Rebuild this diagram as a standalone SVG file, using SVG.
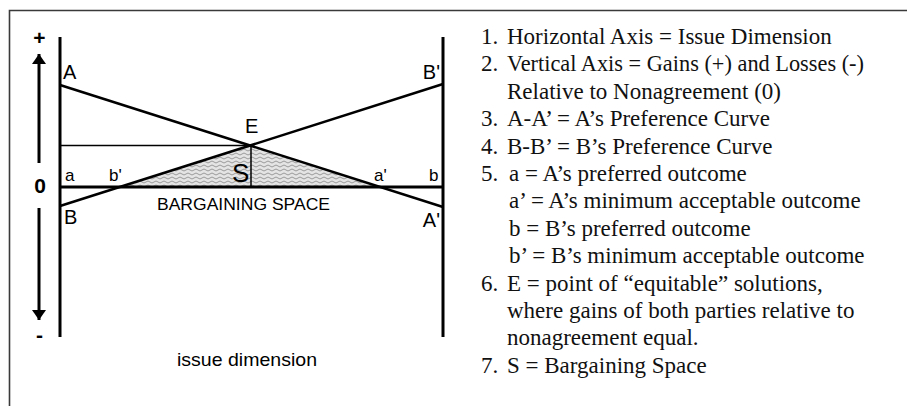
<svg xmlns="http://www.w3.org/2000/svg" width="907" height="406" viewBox="0 0 907 406">
<style>
.frame{stroke:#3a3a3a;stroke-width:1.6;fill:none}
.axis{stroke:#000;stroke-width:3;fill:none}
.curve{stroke:#000;stroke-width:2.5;fill:none}
.thin{stroke:#000;stroke-width:1.5;fill:none}
.lbl{font-family:"Liberation Sans",Arial,sans-serif;fill:#000}
.note{font-family:"Liberation Serif","Times New Roman",serif;font-size:23px;fill:#111}
</style>
<defs>
<pattern id="herring" width="8" height="4" patternUnits="userSpaceOnUse">
<rect width="8" height="4" fill="#e4e4e4"/>
<path d="M0,3 L4,1 L8,3" stroke="#9a9a9a" stroke-width="1" fill="none"/>
</pattern>
<marker id="ah" viewBox="0 0 10 14" refX="10" refY="7" markerWidth="10" markerHeight="14" markerUnits="userSpaceOnUse" orient="auto">
<path d="M0,0 L10,7 L0,14 Z" fill="#000"/>
</marker>
</defs>
<rect width="907" height="406" fill="#fff"/>
<path class="frame" d="M9.5,406 L9.5,10.5 L907,10.5"/>

<g id="space">
<polygon points="120,187 251,145.5 380,187" fill="url(#herring)"/>
</g>
<g id="axes">
<line class="axis" x1="60" y1="37" x2="60" y2="337"/>
<line class="axis" x1="443" y1="37" x2="443" y2="337"/>
<line class="axis" x1="60" y1="187" x2="443" y2="187"/>
<line x1="39" y1="163" x2="39" y2="54" stroke="#000" stroke-width="3" marker-end="url(#ah)"/>
<line x1="39" y1="208" x2="39" y2="320" stroke="#000" stroke-width="3" marker-end="url(#ah)"/>
</g>
<g id="connectors">
<line class="curve" x1="60" y1="85" x2="443" y2="207"/>
<line class="curve" x1="60" y1="206" x2="443" y2="84"/>
<line class="thin" x1="60" y1="145.5" x2="251" y2="145.5"/>
<line class="thin" x1="251" y1="145.5" x2="251" y2="187"/>
</g>
<g id="labels">
<text class="lbl" x="39.5" y="45" font-size="21" font-weight="bold" text-anchor="middle">+</text>
<text class="lbl" x="40" y="193" font-size="21" font-weight="bold" text-anchor="middle">0</text>
<text class="lbl" x="39.5" y="342" font-size="21" font-weight="bold" text-anchor="middle">-</text>
<text class="lbl" x="63" y="79" font-size="20">A</text>
<text class="lbl" x="440" y="79" font-size="20" text-anchor="end">B'</text>
<text class="lbl" x="245" y="133" font-size="20">E</text>
<text class="lbl" x="65" y="181" font-size="17">a</text>
<text class="lbl" x="109" y="181" font-size="17">b'</text>
<text class="lbl" x="232" y="182" font-size="26">S</text>
<text class="lbl" x="374" y="181" font-size="17">a'</text>
<text class="lbl" x="429" y="181" font-size="17">b</text>
<text class="lbl" x="64" y="224" font-size="20">B</text>
<text class="lbl" x="440" y="227" font-size="20" text-anchor="end">A'</text>
<text class="lbl" x="157" y="210" font-size="17" textLength="173" lengthAdjust="spacingAndGlyphs">BARGAINING SPACE</text>
<text class="lbl" x="177" y="366" font-size="19" textLength="140" lengthAdjust="spacingAndGlyphs">issue dimension</text>
</g>

<g id="notes">
<text class="note" x="481" y="44">1.</text>
<text class="note" x="507" y="44">Horizontal Axis = Issue Dimension</text>
<text class="note" x="481" y="71.4">2.</text>
<text class="note" x="507" y="71.4" textLength="357" lengthAdjust="spacingAndGlyphs">Vertical Axis = Gains (+) and Losses (-)</text>
<text class="note" x="507" y="98.8">Relative to Nonagreement (0)</text>
<text class="note" x="481" y="126.2">3.</text>
<text class="note" x="507" y="126.2">A-A’ = A’s Preference Curve</text>
<text class="note" x="481" y="153.6">4.</text>
<text class="note" x="507" y="153.6">B-B’ = B’s Preference Curve</text>
<text class="note" x="481" y="181">5.</text>
<text class="note" x="509" y="181">a = A’s preferred outcome</text>
<text class="note" x="509" y="208.4">a’ = A’s minimum acceptable outcome</text>
<text class="note" x="509" y="235.8">b = B’s preferred outcome</text>
<text class="note" x="509" y="263.2">b’ = B’s minimum acceptable outcome</text>
<text class="note" x="481" y="290.6">6.</text>
<text class="note" x="507" y="290.6">E = point of “equitable” solutions,</text>
<text class="note" x="507" y="318">where gains of both parties relative to</text>
<text class="note" x="507" y="345.4">nonagreement equal.</text>
<text class="note" x="481" y="372.8">7.</text>
<text class="note" x="507" y="372.8">S = Bargaining Space</text>
</g>
</svg>
